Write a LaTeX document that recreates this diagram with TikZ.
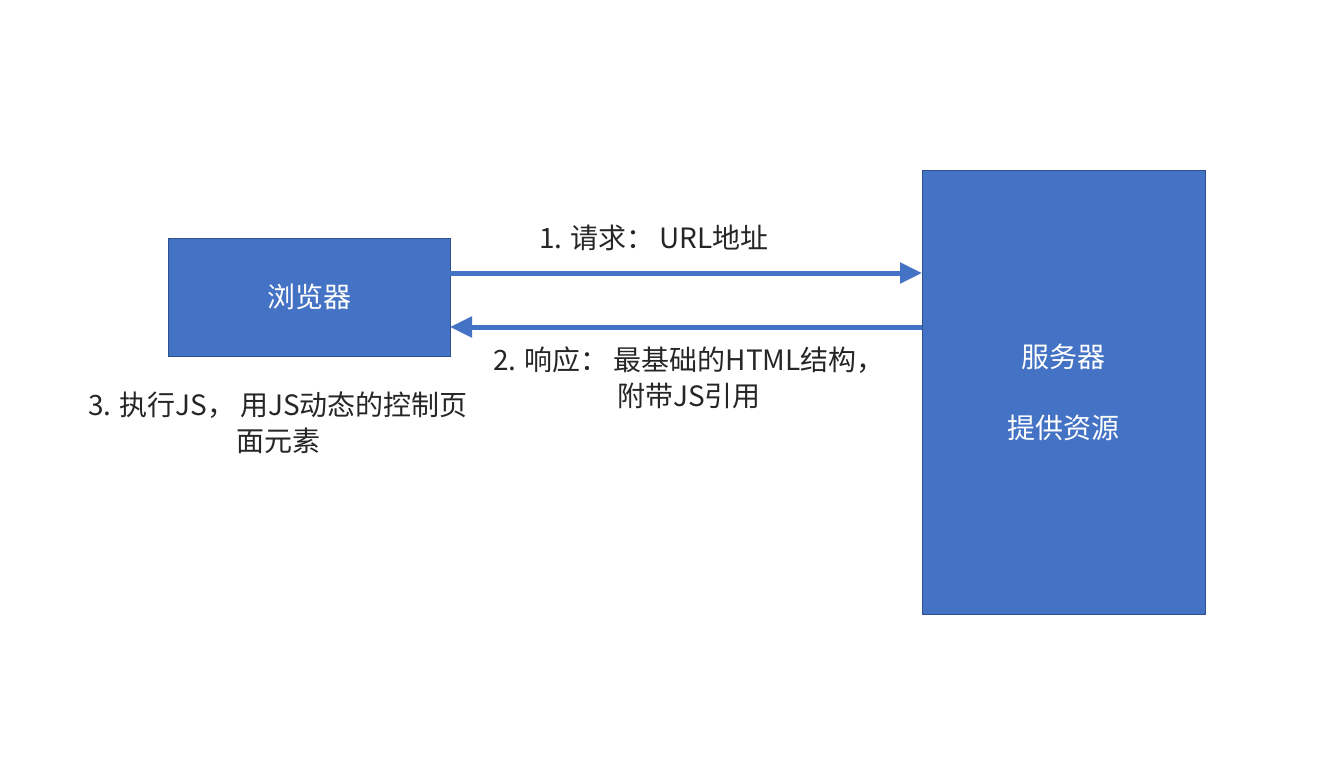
\documentclass[tikz,border=0pt]{standalone}
\usepackage{fontspec}
\setmainfont{Noto Sans CJK SC}
\usetikzlibrary{arrows.meta}
\definecolor{boxblue}{HTML}{4472C4}
\definecolor{boxedge}{HTML}{2F528F}
\definecolor{txt}{HTML}{262626}
\begin{document}
\begin{tikzpicture}[x=1pt,y=-1pt,
  bluebox/.style={draw=boxedge,line width=0.8pt,fill=boxblue,inner sep=0pt},
  conn/.style={draw=boxblue,line width=5pt,-{Triangle[length=22pt,width=20pt]}},
  lbl/.style={text=txt,font=\fontsize{28}{36}\selectfont,align=center,inner sep=0pt},
  wlbl/.style={text=white,font=\fontsize{28}{36}\selectfont,inner sep=0pt}]
\useasboundingbox (0,0) rectangle (1330,770);
\fill[white] (0,0) rectangle (1330,770);
\node[bluebox,minimum width=282pt,minimum height=118pt] (browser) at (309,297) {};
\node[bluebox,minimum width=283pt,minimum height=444pt] (server) at (1063.5,392) {};
\node[wlbl] (bt) at (browser.center) {浏览器};
\node[wlbl] (st1) at (1063,357) {服务器};
\node[wlbl] (st2) at (1063,428) {提供资源};
\coordinate (a1s) at (450,273);
\coordinate (a1e) at (922,273);
\coordinate (a2s) at (922,327);
\coordinate (a2e) at (450,327);
\draw[conn] (a1s) -- (a1e);
\draw[conn] (a2s) -- (a2e);
\node[lbl] (l1) at (654,238) {1. 请求：\,URL地址};
\node[lbl] (l2) at (689,378) {2. 响应：\,最基础的HTML结构，\\附带JS引用};
\node[lbl] (l3) at (278,423) {3. 执行JS，\,用JS动态的控制页\\面元素};
\end{tikzpicture}
\end{document}
